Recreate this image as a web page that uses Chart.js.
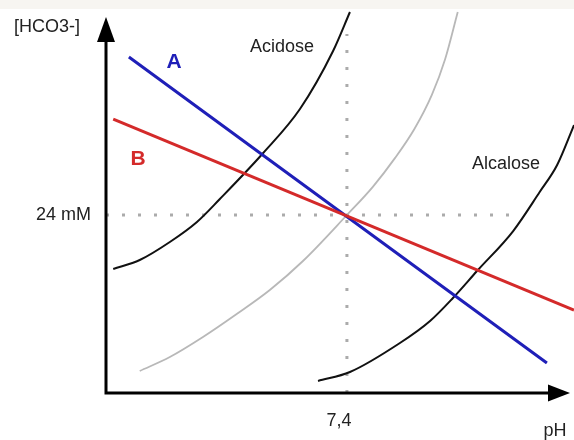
<!DOCTYPE html>
<html>
<head>
<meta charset="utf-8">
<script src="https://cdn.jsdelivr.net/npm/chart.js@4"></script>
<style>
  body { margin: 0; background: #fff; }
  #wrap { width: 574px; height: 440px; }
</style>
</head>
<body>
<div id="wrap"><canvas id="davenport" width="574" height="440"></canvas></div>
<script>
// Davenport-style diagram: [HCO3-] against pH
const acidosePH   = [7.012, 7.056, 7.106, 7.151, 7.189, 7.261, 7.322, 7.377, 7.405];
const acidoseHCO3 = [16.72, 17.93, 20.36, 23.06, 26.16, 32.36, 38.29, 46.11, 51.37];

const normalPH   = [7.056, 7.106, 7.161, 7.217, 7.272, 7.327, 7.400, 7.443, 7.480, 7.512, 7.541, 7.563, 7.584];
const normalHCO3 = [2.97, 4.85, 7.55, 10.65, 13.89, 17.80, 24.00, 27.80, 31.70, 35.60, 40.20, 45.00, 51.37];

const alcalosePH   = [7.352, 7.405, 7.488, 7.538, 7.576, 7.616, 7.676, 7.720, 7.749, 7.777];
const alcaloseHCO3 = [1.62, 2.83, 6.74, 9.71, 12.81, 16.45, 21.84, 27.10, 30.74, 36.13];

const lineAPH   = [7.038, 7.732];
const lineAHCO3 = [45.30, 4.04];
const lineBPH   = [7.012, 7.777];
const lineBHCO3 = [36.94, 11.19];

const refPH = 7.4;
const refHCO3 = 24;
const guideTopHCO3 = 48.4;
const guideRightPH = 7.67;

const xTickValues = [7.4];
const xTickLabels = ['7,4'];
const yTickValues = [24];
const yTickLabels = ['24 mM'];

function zip(xs, ys) {
  return xs.map((x, i) => ({ x: x, y: ys[i] }));
}

const FONT = '"Liberation Sans", Arial, sans-serif';

const axesAndText = {
  id: 'axesAndText',
  beforeDraw(chart) {
    const ctx = chart.ctx;
    ctx.save();
    ctx.fillStyle = '#ffffff';
    ctx.fillRect(0, 0, chart.width, chart.height);
    ctx.fillStyle = '#f7f5f1';
    ctx.fillRect(0, 0, chart.width, 9);
    ctx.restore();
  },
  afterDraw(chart) {
    const ctx = chart.ctx;
    const xs = chart.scales.x, ys = chart.scales.y;
    const x0 = xs.getPixelForValue(xs.min);
    const y0 = ys.getPixelForValue(0);
    const yTip = 17, xTip = 570;

    ctx.save();
    // axes
    ctx.strokeStyle = '#000';
    ctx.fillStyle = '#000';
    ctx.lineWidth = 3;
    ctx.beginPath();
    ctx.moveTo(x0, y0 + 1.5);
    ctx.lineTo(x0, yTip + 20);
    ctx.moveTo(x0 - 1.5, y0);
    ctx.lineTo(xTip - 18, y0);
    ctx.stroke();
    // arrow heads
    ctx.beginPath();
    ctx.moveTo(x0, yTip);
    ctx.lineTo(x0 - 9, yTip + 25);
    ctx.lineTo(x0 + 9, yTip + 25);
    ctx.closePath();
    ctx.fill();
    ctx.beginPath();
    ctx.moveTo(xTip, y0);
    ctx.lineTo(xTip - 22, y0 - 8.5);
    ctx.lineTo(xTip - 22, y0 + 8.5);
    ctx.closePath();
    ctx.fill();

    // tick labels
    ctx.fillStyle = '#222';
    ctx.font = '18px ' + FONT;
    ctx.textBaseline = 'middle';
    ctx.textAlign = 'right';
    yTickValues.forEach((v, i) => {
      ctx.fillText(yTickLabels[i], x0 - 15, ys.getPixelForValue(v));
    });
    ctx.textAlign = 'center';
    xTickValues.forEach((v, i) => {
      ctx.fillText(xTickLabels[i], xs.getPixelForValue(v) - 8, y0 + 28);
    });

    // axis titles and region names
    ctx.textAlign = 'left';
    ctx.fillText('[HCO3-]', 14, 27);
    ctx.fillText('Acidose', 250, 47);
    ctx.fillText('Alcalose', 472, 164);
    ctx.textAlign = 'center';
    ctx.fillText('pH', 555, 431);

    ctx.font = 'bold 21px ' + FONT;
    ctx.fillStyle = '#1f1fb8';
    ctx.fillText('A', 174, 62);
    ctx.fillStyle = '#d42a2a';
    ctx.fillText('B', 138, 159);
    ctx.restore();
  }
};

const curve = (data, color, width) => ({
  data: data,
  borderColor: color,
  borderWidth: width,
  pointRadius: 0,
  showLine: true,
  cubicInterpolationMode: 'monotone',
  fill: false
});

const dotted = (data, gap) => ({
  data: data,
  borderColor: '#ababab',
  borderWidth: 3,
  borderDash: [3, gap],
  borderCapStyle: 'butt',
  pointRadius: 0,
  showLine: true,
  fill: false
});

new Chart(document.getElementById('davenport').getContext('2d'), {
  type: 'scatter',
  data: {
    datasets: [
      curve(zip(lineBPH, lineBHCO3), '#d42a2a', 3),
      curve(zip(lineAPH, lineAHCO3), '#1f1fb8', 3),
      curve(zip(acidosePH, acidoseHCO3), '#111', 2),
      curve(zip(alcalosePH, alcaloseHCO3), '#111', 2),
      curve(zip(normalPH, normalHCO3), '#b8b8b8', 1.8),
      dotted([{ x: 7.0, y: refHCO3 }, { x: guideRightPH, y: refHCO3 }], 13),
      dotted([{ x: refPH, y: 0 }, { x: refPH, y: guideTopHCO3 }], 14)
    ]
  },
  options: {
    responsive: false,
    animation: false,
    layout: { padding: { left: 106, top: 10, right: 0, bottom: 47 } },
    scales: {
      x: { type: 'linear', min: 7.0, max: 7.777, display: false },
      y: { type: 'linear', min: 0, max: 51.64, display: false }
    },
    plugins: {
      legend: { display: false },
      tooltip: { enabled: false }
    },
    clip: false
  },
  plugins: [axesAndText]
});
</script>
</body>
</html>
